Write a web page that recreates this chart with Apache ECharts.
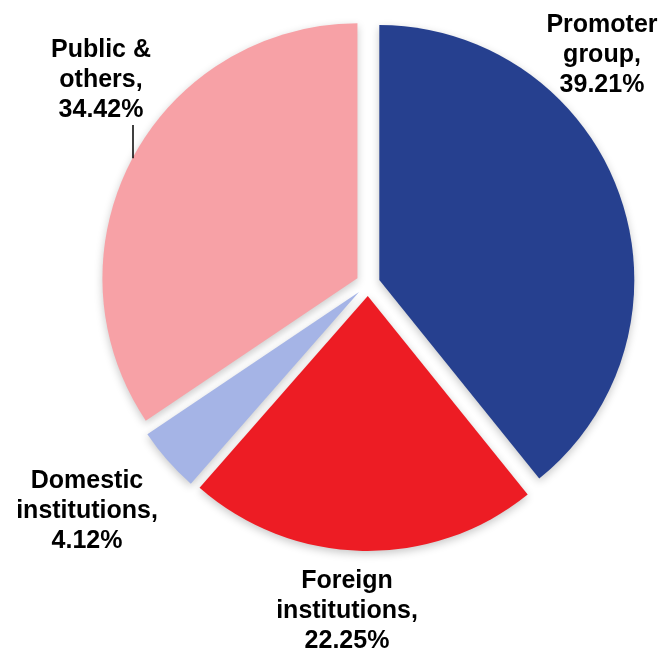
<!DOCTYPE html>
<html>
<head>
<meta charset="utf-8">
<script src="https://cdn.jsdelivr.net/npm/echarts@6/dist/echarts.min.js"></script>
<style>
  html, body { margin: 0; padding: 0; background: #fff; }
  #chart { width: 666px; height: 652px; }
</style>
</head>
<body>
<div id="chart"></div>
<script>
// Shareholding pattern
const holders = ['Promoter group', 'Foreign institutions', 'Domestic institutions', 'Public & others'];
const shares = [39.21, 22.25, 4.12, 34.42];
const sliceColors = ['#26408f', '#ed1c24', '#a5b4e6', '#f7a1a6'];

// Pie geometry: every slice is pulled out from the centre
const cx = 368, cy = 284, outerR = 255, explode = 12;

// Label anchor (centre of each text block)
const labelAnchors = [[602, 55], [347, 611], [87, 511], [101, 80]];

const chart = echarts.init(document.getElementById('chart'), null, { renderer: 'canvas' });

const shadow = { shadowBlur: 8, shadowOffsetY: 3, shadowColor: 'rgba(0,0,0,0.22)' };

// Bisector of slice i (radians, clockwise from 12 o'clock)
function midAngle(i) {
  let before = 0;
  for (let k = 0; k < i; k++) before += shares[k];
  const total = shares.reduce((s, v) => s + v, 0);
  return Math.PI * 2 * (before + shares[i] / 2) / total;
}

chart.setOption({
  animation: false,
  series: [
    {
      // the slices
      type: 'pie',
      center: [cx, cy],
      radius: [0, outerR],
      startAngle: 90,
      clockwise: true,
      selectedMode: 'multiple',
      selectedOffset: explode,
      silent: true,
      data: holders.map((name, i) => ({
        name: name,
        value: shares[i],
        selected: true,
        itemStyle: { color: sliceColors[i] }
      })),
      itemStyle: shadow,
      select: { itemStyle: shadow },
      emphasis: { disabled: true },
      label: { show: false },
      labelLine: { show: false }
    },
    {
      // the captions
      type: 'pie',
      center: [cx, cy],
      radius: [0, outerR],
      startAngle: 90,
      clockwise: true,
      silent: true,
      z: 3,
      data: holders.map((name, i) => ({
        name: name,
        value: shares[i],
        itemStyle: { color: 'rgba(0,0,0,0)' },
        labelLine: { show: i === 3 }
      })),
      emphasis: { disabled: true },
      label: {
        show: true,
        position: 'outside',
        overflow: 'none',
        fontFamily: '"Liberation Sans", Arial, sans-serif',
        fontWeight: 'bold',
        fontSize: 25,
        lineHeight: 30,
        color: '#000',
        align: 'center',
        formatter: p => {
          const n = p.name;
          const k = n.lastIndexOf(' ');
          return n.slice(0, k) + '\n' + n.slice(k + 1) + ',\n' + p.value.toFixed(2) + '%';
        }
      },
      labelLine: { show: true, lineStyle: { color: '#000', width: 1.5 } },
      labelLayout: params => {
        const i = params.dataIndex;
        const a = labelAnchors[i];
        const out = { x: a[0], y: a[1], align: 'center', verticalAlign: 'middle' };
        if (i === 3) {
          // short vertical leader from the slice edge up to the caption
          const lx = a[0] + 32;
          const mid = midAngle(i);
          const ox = cx + explode * Math.sin(mid);
          const oy = cy - explode * Math.cos(mid);
          const ey = oy - Math.sqrt(outerR * outerR - (lx - ox) * (lx - ox));
          out.labelLinePoints = [[lx, ey + 1], [lx, a[1] + 45], [lx, a[1] + 45]];
        }
        return out;
      }
    }
  ]
});
</script>
</body>
</html>
